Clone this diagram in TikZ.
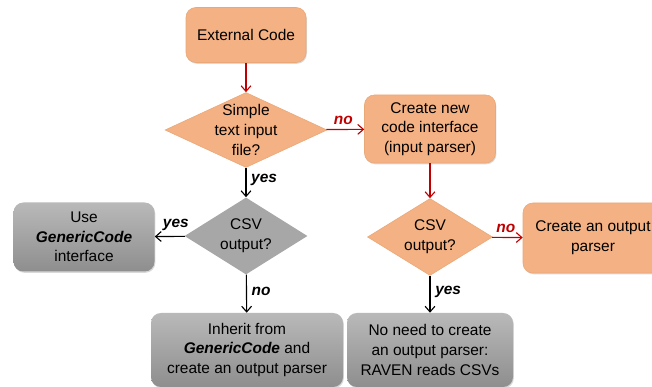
\documentclass[tikz,border=0pt]{standalone}
\usepackage{fontspec}
\setmainfont{Liberation Sans}
\usepackage{tikz}
\usepackage{xcolor}
\usetikzlibrary{shapes.geometric}
\usetikzlibrary{shadows}
\usetikzlibrary{arrows.meta}

\definecolor{boxorange}{HTML}{F4B183}
\definecolor{edgeorange}{HTML}{E9A878}
\definecolor{graytop}{HTML}{B9B9B9}
\definecolor{graybot}{HTML}{8E8E8E}
\definecolor{graydia}{HTML}{A7A7A7}
\definecolor{arrowred}{HTML}{C00000}

\tikzset{
  txt/.style={font=\fontsize{11}{14}\selectfont, align=center},
  obox/.style={txt, rectangle, rounded corners=7pt, fill=boxorange, draw=edgeorange, line width=0.4pt,
    drop shadow={opacity=0.3, shadow xshift=0.6pt, shadow yshift=-0.9pt}},
  gbox/.style={txt, rectangle, rounded corners=7pt, top color=graytop, bottom color=graybot, draw=none,
    drop shadow={opacity=0.3, shadow xshift=0.6pt, shadow yshift=-0.9pt}},
  odec/.style={diamond, inner sep=0pt, fill=boxorange, draw=edgeorange, line width=0.4pt},
  gdec/.style={diamond, inner sep=0pt, fill=graydia, draw=none},
  redarr/.style={draw=arrowred, line width=0.8pt, -{Straight Barb[length=4pt,width=7pt]}},
  blkarr/.style={draw=black, line width=0.8pt, -{Straight Barb[length=4pt,width=7pt]}},
  ans/.style={font=\fontsize{11}{13}\selectfont\bfseries\itshape},
}

\begin{document}
\begin{tikzpicture}
\useasboundingbox (0,0) rectangle (16.3,9.675);
\clip (0,0) rectangle (16.3,9.675);

\node[obox, minimum width=3cm, minimum height=1.375cm] (ext) at (6.15,8.8) {External Code};

\node[odec, minimum width=4.05cm, minimum height=1.875cm,
  label={[txt]center:Simple\\text input\\file?}] (simple) at (6.15,6.425) {};
\node[obox, minimum width=3.275cm, minimum height=1.7cm] (newif) at (10.75,6.45)
  {Create new\\code interface\\(input parser)};

\node[gdec, minimum width=3.075cm, minimum height=1.925cm,
  label={[txt]center:CSV\\output?}] (csvl) at (6.15,3.775) {};
\node[gbox, minimum width=3.525cm, minimum height=1.725cm] (usegc) at (2.1,3.75)
  {Use\\\textbf{\textit{GenericCode}}\\interface};

\node[odec, minimum width=3.125cm, minimum height=1.925cm,
  label={[txt]center:CSV\\output?}] (csvr) at (10.75,3.75) {};
\node[obox, minimum width=3.5cm, minimum height=1.75cm] (outp) at (14.825,3.725)
  {Create an output\\parser};

\node[gbox, minimum width=4.8cm, minimum height=1.85cm] (inherit) at (6.175,0.925)
  {Inherit from\\\textbf{\textit{GenericCode}} and\\create an output parser};
\node[gbox, minimum width=4.15cm, minimum height=1.85cm] (noneed) at (10.75,0.925)
  {No need to create\\an output parser:\\RAVEN reads CSVs};

% connectors
\draw[redarr] (ext) -- (simple);
\draw[redarr] (simple) -- node[ans, text=arrowred, above, pos=0.45] {no} (newif);
\draw[blkarr] (simple) -- node[ans, right, pos=0.4] {yes} (csvl);
\draw[blkarr] (csvl) -- node[ans, above, pos=0.3] {yes} (usegc);
\draw[blkarr] (csvl) -- node[ans, right, pos=0.45] {no} (inherit);
\draw[redarr] (newif) -- (csvr);
\draw[redarr] (csvr) -- node[ans, text=arrowred, above, pos=0.45] {no} (outp);
\draw[blkarr] (csvr) -- node[ans, right, pos=0.45] {yes} (noneed);
\end{tikzpicture}
\end{document}
